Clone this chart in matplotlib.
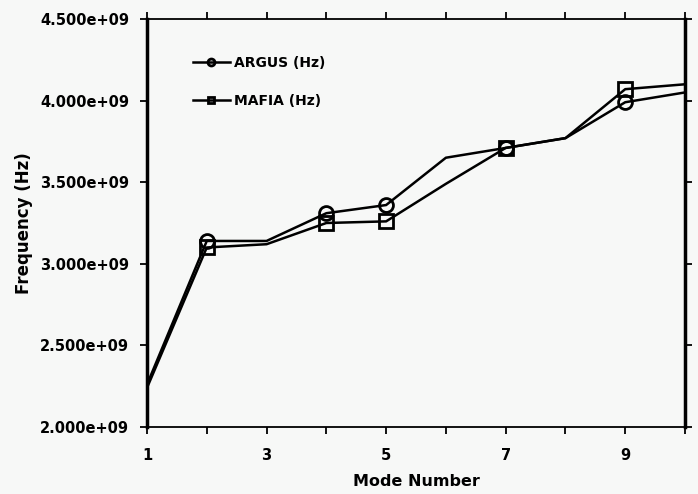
import matplotlib
matplotlib.use("Agg")
import matplotlib.pyplot as plt

modes = [1, 2, 3, 4, 5, 6, 7, 8, 9, 10]
argus = [2.26e9, 3.14e9, 3.14e9, 3.31e9, 3.36e9, 3.65e9, 3.71e9, 3.77e9, 3.99e9, 4.05e9]
mafia = [2.24e9, 3.10e9, 3.12e9, 3.25e9, 3.26e9, 3.49e9, 3.71e9, 3.77e9, 4.07e9, 4.10e9]
marker_idx = [1, 3, 4, 6, 8]
xtick_labels = ["1", "", "3", "", "5", "", "7", "", "9", ""]
ytick_vals = [2.0e9, 2.5e9, 3.0e9, 3.5e9, 4.0e9, 4.5e9]
ytick_labels = ["2.000e+09", "2.500e+09", "3.000e+09", "3.500e+09", "4.000e+09", "4.500e+09"]

plt.rcParams['font.family'] = ['DejaVu Sans']
plt.rcParams['font.weight'] = 'bold'

fig = plt.figure(figsize=(6.98, 4.94), dpi=100)
fig.patch.set_facecolor('#f7f8f7')
ax = fig.add_axes([147/698, 1-427/494, 538/698, 408/494])
ax.set_facecolor('#f7f8f7')

ax.plot(modes, argus, color='black', lw=1.8, marker='o', markevery=marker_idx,
        markersize=10, markerfacecolor='none', markeredgewidth=2.0, label='ARGUS (Hz)')
ax.plot(modes, mafia, color='black', lw=1.8, marker='s', markevery=marker_idx,
        markersize=10, markerfacecolor='none', markeredgewidth=2.0, label='MAFIA (Hz)')

ax.set_xlim(1, 10)
ax.set_ylim(2.0e9, 4.5e9)
ax.set_xticks(modes)
ax.set_xticklabels(xtick_labels)
ax.set_yticks(ytick_vals)
ax.set_yticklabels(ytick_labels)
ax.tick_params(direction='out', length=5, width=1.3, top=True, right=True,
               labelsize=10.5)
ax.tick_params(axis='x', pad=10)
ax.tick_params(axis='y', pad=8)
for lab in ax.get_xticklabels() + ax.get_yticklabels():
    lab.set_fontweight('bold')
for side in ['left', 'right']:
    ax.spines[side].set_linewidth(2.5)
for side in ['top', 'bottom']:
    ax.spines[side].set_linewidth(1.3)

ax.set_xlabel('Mode Number', fontsize=11.5, fontweight='bold', labelpad=8)
ax.set_ylabel('Frequency (Hz)', fontsize=12, fontweight='bold', labelpad=5)

leg = ax.legend(loc='upper left', bbox_to_anchor=(0.063, 0.94), frameon=False,
                handlelength=2.6, fontsize=10, labelspacing=1.75, handletextpad=0.3,
                markerscale=0.5)
for t in leg.get_texts():
    t.set_fontweight('bold')

fig.savefig('out.png', dpi=100, facecolor=fig.get_facecolor())
